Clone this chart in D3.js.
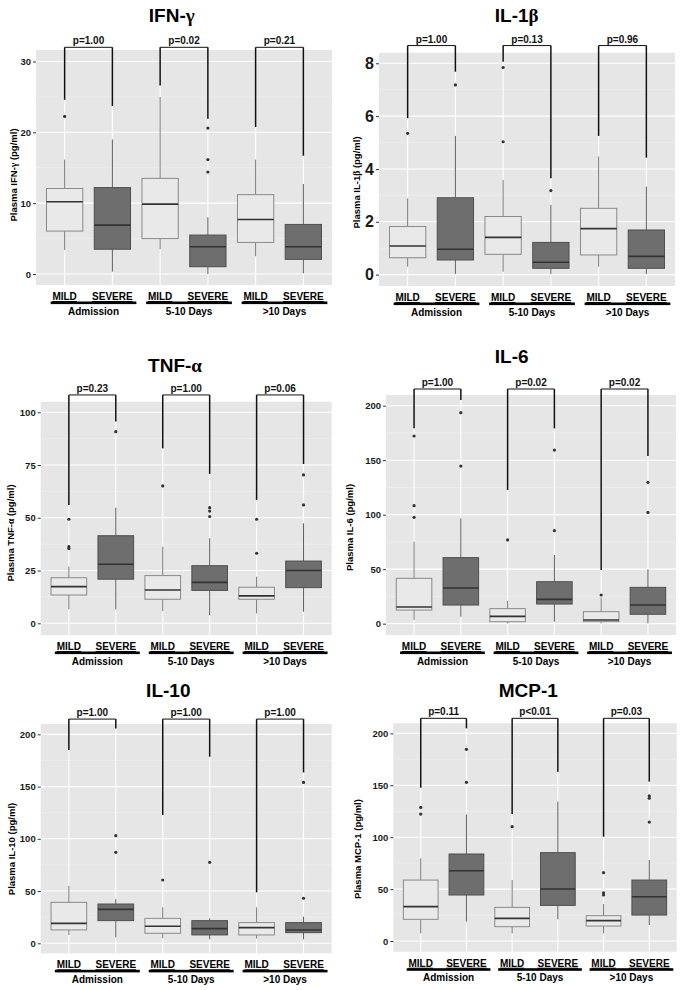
<!DOCTYPE html>
<html><head><meta charset="utf-8">
<script src="https://cdn.jsdelivr.net/npm/d3@7"></script>
<style>body{margin:0;background:#fff}svg{display:block}</style>
</head><body><svg id="c" width="685" height="990"></svg>
<script>
// ---------- DATA ----------
const categories = ["MILD","SEVERE","MILD","SEVERE","MILD","SEVERE"];
const groups = ["Admission","5-10 Days",">10 Days"];
const titles = ["IFN-γ","IL-1β","TNF-α","IL-6","IL-10","MCP-1"];
const yTitles = ["Plasma IFN-γ (pg/ml)","Plasma IL-1β (pg/ml)","Plasma TNF-α (pg/ml)","Plasma IL-6 (pg/ml)","Plasma IL-10 (pg/ml)","Plasma MCP-1 (pg/ml)"];
const yTicks = [[0,10,20,30],[0,2,4,6,8],[0,25,50,75,100],[0,50,100,150,200],[0,50,100,150,200],[0,50,100,150,200]];
const pValues = [["p=1.00","p=0.02","p=0.21"],["p=1.00","p=0.13","p=0.96"],["p=0.23","p=1.00","p=0.06"],
                 ["p=1.00","p=0.02","p=0.02"],["p=1.00","p=1.00","p=1.00"],["p=0.11","p<0.01","p=0.03"]];
// five-number boxes: [low whisker, Q1, median, Q3, high whisker]
const ifnBoxes = [[3.4,6.06,10.2,12.07,16.15],[0.33,3.5,6.9,12.2,19.0],[3.5,5.0,9.86,13.5,25.0],[0,1.03,3.85,5.5,8.0],[2.5,4.46,7.7,11.2,16.15],[0.1,2.07,3.85,7.0,12.7]];
const ifnOutliers = [[22.25],[],[],[20.6,16.15,14.4],[],[]];
const ifnLegs = [24.6,23.7,26.6,21.9,20.75,16.7];
const il1Boxes = [[0.30,0.64,1.085,1.82,2.89],[0.025,0.555,0.96,2.91,5.25],[0.11,0.77,1.41,2.2,3.58],[0.025,0.24,0.47,1.22,2.64],[0.30,0.745,1.74,2.51,4.47],[0.025,0.24,0.69,1.69,3.33]];
const il1Outliers = [[5.35],[7.18],[5.03,7.84],[3.18],[],[]];
const il1Legs = [5.92,7.68,8.06,3.65,5.25,4.43];
const tnfBoxes = [[6.6,13.4,17.4,21.6,26.9],[6.6,20.9,28.0,41.5,54.8],[5.8,11.4,15.8,22.6,36.3],[3.9,15.6,19.4,27.3,40.3],[4.7,11.4,13.0,17.1,22.1],[5.5,16.9,25.0,29.5,47.4]];
const tnfOutliers = [[35.4,36.3,49.3],[90.8],[65.1],[50.6,53.2,54.8],[33.2,49.3],[56.1,70.3]];
const tnfLegs = [56.1,95.6,82.9,70.8,58.5,75.5];
const il6Boxes = [[3.4,12.5,15.3,41.6,75.2],[6.4,17.1,32.7,60.6,96.6],[0.3,1.8,6.7,13.8,20.8],[1.8,18.0,22.3,38.5,63.0],[0.3,1.8,3.4,11.0,23.9],[0.3,8.6,17.1,33.3,49.8]];
const il6Outliers = [[97.6,108.3,172.2],[144.6,193.6],[76.8],[85.3,159.3],[26.3],[102.1,129.7]];
const il6Legs = [179.2,205.2,122.6,179.2,49.2,153.8];
const il10Boxes = [[8.0,12.8,19.1,39.2,54.9],[5.7,21.7,32.5,37.6,42.4],[4.8,9.6,16.3,23.9,34.4],[3.8,8.0,14.0,21.7,23.9],[4.5,8.0,15.0,19.8,34.4],[3.8,10.2,12.8,19.8,25.5]];
const il10Outliers = [[],[87.1,103],[60.6],[77.5],[],[43.1,154]];
const il10Legs = [185,205.7,122.8,178.6,48.8,163.6];
const mcpBoxes = [[7.4,20.9,33.1,58.7,79.6],[18.6,44.3,67.7,83.8,122],[7.4,13.8,21.8,32.4,58.7],[20.9,34.3,50.1,85.1,134.2],[7.4,14.4,19.6,24.4,35.6],[15.4,25.0,42.7,58.7,78]];
const mcpOutliers = [[122.3,128.7],[152.8,184.6],[110.1],[],[44.3,46.5,65.8],[114.6,137.5,139.7]];
const mcpLegs = [147.7,204.8,122.3,163.1,100.5,153.5];
const bracketLevels = [32.0,8.67,108.2,215.3,214.6,214.5];

const panelData = [
  {boxes:ifnBoxes,out:ifnOutliers,legs:ifnLegs},
  {boxes:il1Boxes,out:il1Outliers,legs:il1Legs},
  {boxes:tnfBoxes,out:tnfOutliers,legs:tnfLegs},
  {boxes:il6Boxes,out:il6Outliers,legs:il6Legs},
  {boxes:il10Boxes,out:il10Outliers,legs:il10Legs},
  {boxes:mcpBoxes,out:mcpOutliers,legs:mcpLegs}
];

// ---------- LAYOUT ----------
const layout = [
  {x0:36,x1:332,y0:50,y1:285,dom:[-1.55,31.62],tick:9.5,tx:171.7,ty:21.7,lx:16.5,ly:175},
  {x0:379,x1:675,y0:52.7,y1:286,dom:[-0.43,8.40],tick:16,tx:516.7,ty:22,lx:359.5,ly:182.5},
  {x0:40.7,x1:331.7,y0:401.7,y1:635,dom:[-5.54,105.0],tick:9.5,tx:175,ty:371.7,lx:13.5,ly:533},
  {x0:386,x1:676,y0:395,y1:635,dom:[-10.4,209.8],tick:9.5,tx:511.7,ty:363.3,lx:352.5,ly:527.5},
  {x0:40.7,x1:331.7,y0:724,y1:953.3,dom:[-9.57,209.9],tick:9.5,tx:168.3,ty:696.7,lx:15,ly:849},
  {x0:393.3,x1:676.7,y0:723.3,y1:951.7,dom:[-10.3,209.7],tick:9.5,tx:528.3,ty:696.7,lx:360.5,ly:849}
];

const FONT = "'Liberation Sans', Arial, Helvetica, sans-serif";
const GREEK = "'Liberation Serif', 'DejaVu Serif', serif";
const svg = d3.select("#c");

function richText(sel, str){
  const parts = str.split(/([α-ωΑ-Ω])/);
  parts.forEach(p=>{ if(!p) return;
    const t = sel.append("tspan").text(p);
    if(/[α-ωΑ-Ω]/.test(p)) t.attr("font-family",GREEK);
  });
}

layout.forEach((L,i)=>{
  const D = panelData[i];
  const g = svg.append("g");
  const ids = categories.map((c,k)=>k);
  const x = d3.scalePoint().domain(ids).range([L.x0,L.x1]).padding(0.6);
  const y = d3.scaleLinear().domain(L.dom).range([L.y1,L.y0]);
  const step = x.step();
  const bw = step*0.76;
  const ticks = yTicks[i];
  const minor = d3.pairs(ticks).map(([a,b])=>(a+b)/2);

  g.append("rect").attr("x",L.x0).attr("y",L.y0).attr("width",L.x1-L.x0).attr("height",L.y1-L.y0).attr("fill","#e6e6e6");
  g.selectAll(".mn").data(minor).join("line").attr("x1",L.x0).attr("x2",L.x1)
    .attr("y1",d=>y(d)).attr("y2",d=>y(d)).attr("stroke","#f2f2f2").attr("stroke-width",0.6);
  g.selectAll(".mj").data(ticks).join("line").attr("x1",L.x0).attr("x2",L.x1)
    .attr("y1",d=>y(d)).attr("y2",d=>y(d)).attr("stroke","#fff").attr("stroke-width",1.1);
  g.selectAll(".vx").data(ids).join("line").attr("x1",d=>x(d)).attr("x2",d=>x(d))
    .attr("y1",L.y0).attr("y2",L.y1).attr("stroke","#fff").attr("stroke-width",1.1);

  // y axis
  const ax = g.append("g").attr("transform",`translate(${L.x0},0)`)
    .call(d3.axisLeft(y).tickValues(ticks).tickSize(3).tickPadding(2).tickFormat(d3.format("d")));
  ax.select(".domain").remove();
  ax.selectAll(".tick line").attr("stroke","#333");
  ax.selectAll(".tick text").attr("font-family",FONT).attr("font-weight","bold")
    .attr("font-size",L.tick).attr("fill","#1a1a1a");

  // boxes
  ids.forEach(k=>{
    const b = D.boxes[k]; const cx = x(k); const mild = k%2===0;
    const wc = mild ? "#7a7a7a" : "#5e5e5e";
    g.append("line").attr("x1",cx).attr("x2",cx).attr("y1",y(b[3])).attr("y2",y(b[4])).attr("stroke",wc).attr("stroke-width",1);
    g.append("line").attr("x1",cx).attr("x2",cx).attr("y1",y(b[1])).attr("y2",y(b[0])).attr("stroke",wc).attr("stroke-width",1);
    g.append("rect").attr("x",cx-bw/2).attr("width",bw).attr("y",y(b[3])).attr("height",y(b[1])-y(b[3]))
      .attr("fill",mild?"#e9e9e9":"#6e6e6e").attr("stroke",mild?"#8a8a8a":"#4f4f4f").attr("stroke-width",1);
    g.append("line").attr("x1",cx-bw/2).attr("x2",cx+bw/2).attr("y1",y(b[2])).attr("y2",y(b[2])).attr("stroke","#333").attr("stroke-width",1.6);
    g.selectAll(null).data(D.out[k]).join("circle").attr("cx",cx).attr("cy",d=>y(d)).attr("r",1.6).attr("fill","#333");
  });

  // brackets
  const by = y(bracketLevels[i]);
  groups.forEach((gr,j)=>{
    const a = x(2*j), c = x(2*j+1);
    g.append("line").attr("x1",a).attr("x2",c).attr("y1",by).attr("y2",by).attr("stroke","#111").attr("stroke-width",1);
    [2*j,2*j+1].forEach(k=>{
      g.append("line").attr("x1",x(k)).attr("x2",x(k)).attr("y1",by).attr("y2",y(D.legs[k])).attr("stroke","#111").attr("stroke-width",1.5);
    });
    g.append("text").attr("x",(a+c)/2).attr("y",by-3).attr("text-anchor","middle")
      .attr("font-family",FONT).attr("font-weight","bold").attr("font-size",10).attr("fill","#111").text(pValues[i][j]);
    // x labels
    [2*j,2*j+1].forEach(k=>{
      g.append("text").attr("x",x(k)).attr("y",L.y1+15).attr("text-anchor","middle")
        .attr("font-family",FONT).attr("font-weight","bold").attr("font-size",10).attr("fill","#000")
        .attr("text-decoration","underline").text(categories[k]);
    });
    const lx0 = a-14, lx1 = c+24;
    g.append("rect").attr("x",lx0).attr("width",lx1-lx0).attr("y",L.y1+16.5).attr("height",2.6).attr("fill","#000");
    g.append("text").attr("x",(lx0+lx1)/2).attr("y",L.y1+29.5).attr("text-anchor","middle")
      .attr("font-family",FONT).attr("font-weight","bold").attr("font-size",10).attr("fill","#000").text(gr);
  });

  // title
  const t = g.append("text").attr("x",L.tx).attr("y",L.ty).attr("text-anchor","middle")
    .attr("font-family",FONT).attr("font-weight","bold").attr("font-size",19).attr("fill","#000");
  richText(t,titles[i]);
  const yt = g.append("text").attr("transform",`translate(${L.lx},${L.ly}) rotate(-90)`).attr("text-anchor","middle")
    .attr("font-family",FONT).attr("font-weight","bold").attr("font-size",9.5).attr("fill","#000");
  richText(yt,yTitles[i]);
});
</script></body></html>
